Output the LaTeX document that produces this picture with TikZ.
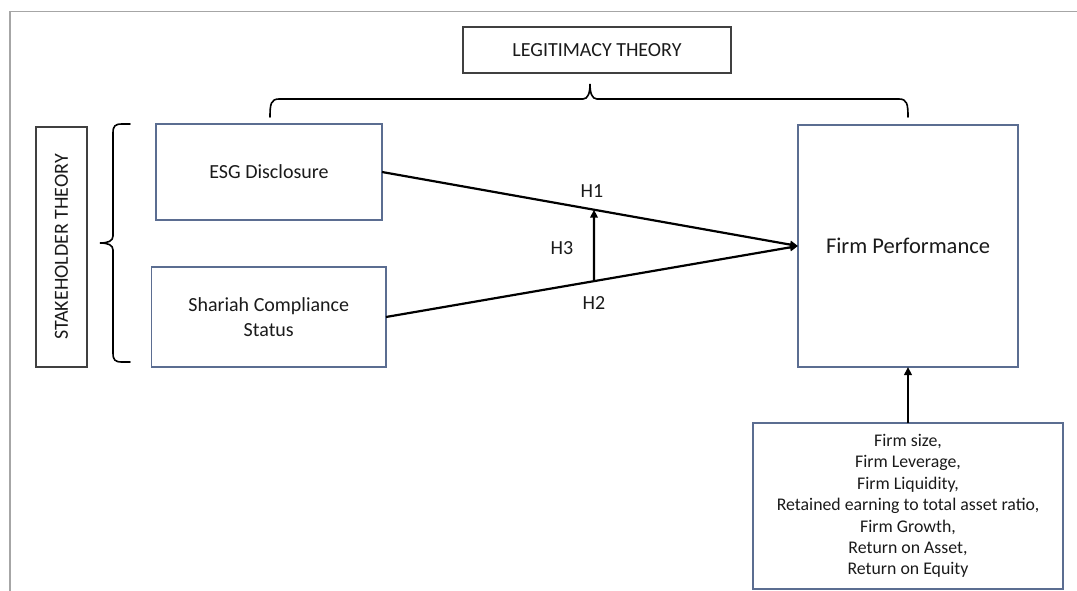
\documentclass[tikz,border=0pt]{standalone}
\usepackage{fontspec}
\setmainfont{Carlito}
\usetikzlibrary{arrows.meta,intersections,calc}
\definecolor{txt}{HTML}{1A1A1A}
\definecolor{bluebox}{HTML}{5B6D91}
\definecolor{graybox}{HTML}{404040}
\definecolor{framec}{HTML}{A6A6A6}
\tikzset{
  bluenode/.style={draw=bluebox,line width=1.3pt,inner sep=0pt,outer sep=0pt,align=center,text=txt},
  graynode/.style={draw=graybox,line width=1.3pt,inner sep=0pt,outer sep=0pt,align=center,text=txt},
  lbl/.style={inner sep=0pt,text=txt,font=\fontsize{20}{24}\selectfont},
  arr/.style={line width=2.2pt,-{Triangle[length=8pt,width=7.5pt]}},
  bracec/.style={line width=1.6pt,black,line cap=round}
}
\begin{document}
\begin{tikzpicture}[x=1pt,y=-1pt]
\useasboundingbox (0,0) rectangle (1077,591);
% outer frame
\draw[framec,line width=1.6pt] (10,591) -- (10,11.5) -- (1077,11.5);
% theory boxes
\node[graynode,minimum width=268,minimum height=46,font=\fontsize{20}{24}\selectfont] (legit) at (597,50) {LEGITIMACY THEORY};
\node[graynode,rotate=90,minimum width=240,minimum height=51,font=\fontsize{20}{24}\selectfont] (stake) at (61.5,247) {STAKEHOLDER THEORY};
% main boxes
\node[bluenode,minimum width=226,minimum height=96,font=\fontsize{20}{24.4}\selectfont] (esg) at (269,172) {ESG Disclosure};
\node[bluenode,minimum width=234.5,minimum height=100,font=\fontsize{20}{24.6}\selectfont] (sh) at (268.75,317) {Shariah Compliance\\Status};
\node[bluenode,minimum width=220,minimum height=242,font=\fontsize{22.5}{27}\selectfont] (fp) at (908,246) {Firm Performance};
\node[bluenode,minimum width=310,minimum height=166,font=\fontsize{17.8}{21.4}\selectfont] (ctrl) at (908,506) {Firm size,\\Firm Leverage,\\Firm Liquidity,\\Retained earning to total asset ratio,\\Firm Growth,\\Return on Asset,\\Return on Equity};
% braces
\draw[bracec] (270,117) .. controls (270,104) and (271,99) .. (279,99) -- (583,99)
  .. controls (588,99) and (590,93) .. (590,84)
  .. controls (590,93) and (592,99) .. (597,99) -- (899,99)
  .. controls (907,99) and (908,104) .. (908,117);
\draw[bracec] (130,124) -- (122,124) .. controls (115,124) and (113,126) .. (113,133) -- (113,236)
  .. controls (113,241) and (108,243) .. (100,243)
  .. controls (108,243) and (113,245) .. (113,250) -- (113,353)
  .. controls (113,360) and (115,362) .. (122,362) -- (130,362);
% connectors
\draw[arr,name path=up] (esg.east) -- (fp.west);
\draw[arr,name path=lo] (sh.east) -- (fp.west);
\coordinate (mx) at (594,150);
\path[name path=vl] (mx) -- ++(0,200);
\path[name intersections={of=up and vl,by=h1pt}];
\path[name intersections={of=lo and vl,by=h2pt}];
\draw[arr] (h2pt) -- (h1pt);
\draw[arr] (ctrl.north) -- (fp.south);
% labels
\node[lbl] (h1) at (592,191) {H1};
\node[lbl] (h3) at (562,248) {H3};
\node[lbl] (h2) at (594,303) {H2};
\end{tikzpicture}
\end{document}
